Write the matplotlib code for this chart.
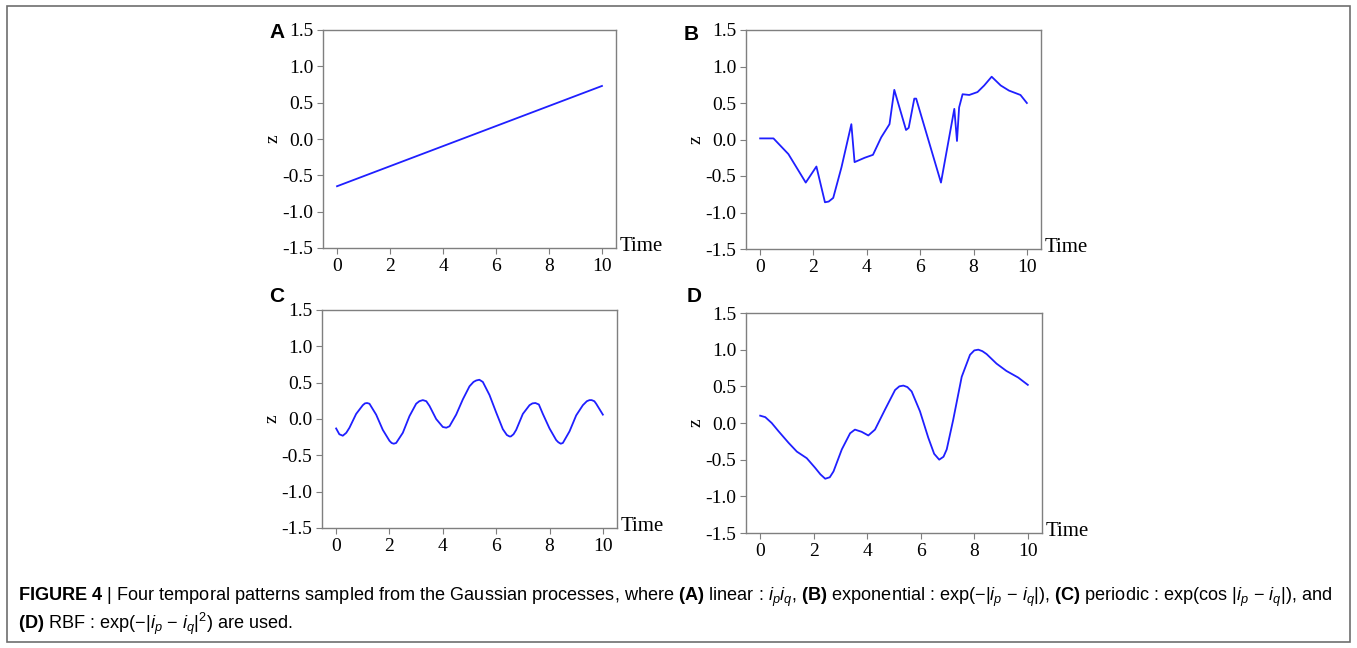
import matplotlib
matplotlib.use("Agg")
import matplotlib.pyplot as plt
from matplotlib.patches import Rectangle
from matplotlib.ticker import FormatStrFormatter

# ---------------- data ----------------
a_time = [0.0, 10.0]
a_z = [-0.65, 0.73]

b_time = [0.0, 0.5, 1.06, 1.71, 2.11, 2.43, 2.57, 2.74, 3.05, 3.42, 3.54, 3.92,
          4.23, 4.54, 4.85, 5.03, 5.47, 5.57, 5.78, 5.85, 6.78, 7.28, 7.38, 7.46,
          7.59, 7.84, 8.15, 8.40, 8.68, 9.02, 9.33, 9.76, 10.0]
b_z = [0.015, 0.015, -0.20, -0.59, -0.37, -0.86, -0.85, -0.80, -0.38, 0.21, -0.31, -0.25,
       -0.21, 0.03, 0.21, 0.68, 0.13, 0.16, 0.56, 0.56, -0.59, 0.42, -0.02, 0.44,
       0.62, 0.61, 0.65, 0.74, 0.86, 0.74, 0.67, 0.61, 0.50]

c_time = [0.0, 0.12, 0.25, 0.38, 0.5, 0.75, 1.0, 1.08, 1.16, 1.25, 1.5, 1.75, 2.0, 2.08, 2.16,
          2.25, 2.5, 2.75, 3.0, 3.12, 3.25, 3.38, 3.5, 3.75, 4.0, 4.13, 4.25, 4.5, 4.75, 5.0,
          5.15, 5.25, 5.37, 5.5, 5.75, 6.0, 6.25, 6.4, 6.5, 6.55, 6.65, 6.75, 7.0, 7.25, 7.36,
          7.47, 7.6, 7.75, 8.0, 8.25, 8.33, 8.42, 8.5, 8.75, 9.0, 9.25, 9.4, 9.5, 9.58, 9.68,
          9.75, 10.0]
c_z = [-0.13, -0.21, -0.23, -0.19, -0.12, 0.07, 0.19, 0.215, 0.22, 0.21, 0.06, -0.15, -0.30,
       -0.33, -0.34, -0.33, -0.19, 0.04, 0.21, 0.245, 0.26, 0.245, 0.18, 0.0, -0.11, -0.12,
       -0.10, 0.06, 0.27, 0.45, 0.51, 0.53, 0.54, 0.51, 0.33, 0.09, -0.14, -0.22, -0.24,
       -0.24, -0.21, -0.15, 0.07, 0.19, 0.215, 0.22, 0.2, 0.07, -0.13, -0.29, -0.32, -0.34,
       -0.33, -0.17, 0.05, 0.19, 0.245, 0.26, 0.26, 0.245, 0.21, 0.06]

d_time = [0.0, 0.19, 0.43, 0.68, 1.06, 1.37, 1.74, 2.05, 2.25, 2.43, 2.6, 2.74, 3.05, 3.36,
          3.54, 3.79, 4.04, 4.29, 4.66, 5.04, 5.2, 5.35, 5.5, 5.66, 5.97, 6.28, 6.5, 6.69,
          6.85, 6.97, 7.21, 7.53, 7.84, 8.0, 8.15, 8.3, 8.46, 8.83, 9.20, 9.64, 10.0]
d_z = [0.10, 0.08, 0.0, -0.11, -0.27, -0.39, -0.48, -0.61, -0.70, -0.76, -0.74, -0.66, -0.36,
       -0.14, -0.09, -0.12, -0.17, -0.09, 0.18, 0.45, 0.50, 0.51, 0.49, 0.43, 0.16, -0.20,
       -0.42, -0.50, -0.46, -0.36, 0.04, 0.63, 0.93, 0.99, 1.00, 0.98, 0.94, 0.81, 0.71,
       0.62, 0.52]

x_ticks = [0, 2, 4, 6, 8, 10]
y_ticks = [-1.5, -1.0, -0.5, 0.0, 0.5, 1.0, 1.5]
panel_labels = ["A", "B", "C", "D"]

caption_line1 = (r"$\mathbf{FIGURE\ 4}$ | Four temporal patterns sampled from the Gaussian processes, where "
                 r"$\mathbf{(A)}$ linear : $i_p i_q$, $\mathbf{(B)}$ exponential : exp($-$|$i_p$ $-$ $i_q$|), "
                 r"$\mathbf{(C)}$ periodic : exp(cos |$i_p$ $-$ $i_q$|), and")
caption_line2 = r"$\mathbf{(D)}$ RBF : exp($-$|$i_p$ $-$ $i_q$|$^2$) are used."

# ---------------- style ----------------
W, H = 1357, 648
plt.rcParams["axes.unicode_minus"] = False
plt.rcParams["mathtext.fontset"] = "custom"
cap_font = "Liberation Sans"
plt.rcParams["mathtext.rm"] = cap_font
plt.rcParams["mathtext.it"] = cap_font + ":italic"
plt.rcParams["mathtext.bf"] = cap_font + ":bold"
plt.rcParams["mathtext.sf"] = cap_font

fig = plt.figure(figsize=(W / 100, H / 100), dpi=100)

# axes boxes in pixels: left, right, top, bottom
boxes = [(323, 616, 30, 248), (746, 1041, 30, 249),
         (322, 617, 310, 528), (746, 1042, 313, 533)]
series = [(a_time, a_z), (b_time, b_z), (c_time, c_z), (d_time, d_z)]
letter_pos = [(277, 33), (691, 34), (277, 297), (694, 296)]

spine_col = "#7f7f7f"
line_col = "#1f1fff"
serif = "Liberation Serif"

for (l, r, t, b), (xs, ys), lab, (lx, ly) in zip(boxes, series, panel_labels, letter_pos):
    ax = fig.add_axes([l / W, 1 - b / H, (r - l) / W, (b - t) / H])
    ax.plot(xs, ys, color=line_col, lw=1.3)
    ax.set_xlim(-0.53, 10.53)
    ax.set_ylim(-1.5, 1.5)
    ax.set_xticks(x_ticks)
    ax.set_yticks(y_ticks)
    ax.yaxis.set_major_formatter(FormatStrFormatter("%.1f"))
    for s in ax.spines.values():
        s.set_color(spine_col)
        s.set_linewidth(1.0)
    ax.tick_params(direction="out", length=4, width=0.8, color=spine_col,
                   labelsize=14, pad=3)
    for tl in ax.get_xticklabels() + ax.get_yticklabels():
        tl.set_fontfamily(serif)
    ax.set_ylabel("z", fontsize=14, family=serif)
    ax.yaxis.set_label_coords(-0.14, 0.5)
    ax.text(1.012, 0.005, "Time", transform=ax.transAxes, fontsize=15,
            family=serif, ha="left", va="center")
    fig.text(lx / W, 1 - ly / H, lab, fontsize=15, fontweight="bold",
             family="Liberation Sans", ha="center", va="center")

# caption
fig.text(18 / W, 1 - 597 / H, caption_line1, fontsize=13.1, family=cap_font,
         ha="left", va="center")
fig.text(18 / W, 1 - 624 / H, caption_line2, fontsize=13.1, family=cap_font,
         ha="left", va="center")

# outer frame
fig.patches.append(Rectangle((7 / W, 1 - 642 / H), (1350 - 7) / W, (642 - 6) / H,
                             transform=fig.transFigure, fill=False,
                             edgecolor="#6e6e6e", lw=1.2))

fig.savefig("out.png", dpi=100)
